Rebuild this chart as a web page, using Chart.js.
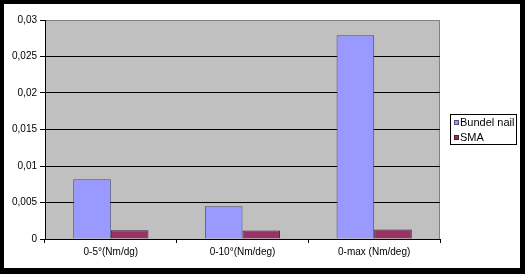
<!DOCTYPE html>
<html lang="en">
<head>
    <meta charset="utf-8">
    <title>Bundel nail vs SMA</title>
    <script src="https://cdn.jsdelivr.net/npm/chart.js"></script>
    <style>
        body { margin: 0; background: #fff; }
        #frame {
            position: absolute; left: 0; top: 0;
            width: 525px; height: 274px;
            box-sizing: border-box;
            border-style: solid; border-color: #000;
            border-width: 4px 5px 6px 4px;
            background: #fff;
        }
        canvas { display: block; }
    </style>
</head>
<body>
    <div id="frame">
        <canvas id="myChart" width="516" height="264"></canvas>
    </div>
    <script>
        const labels = ['0-5°(Nm/dg)', '0-10°(Nm/deg)', '0-max (Nm/deg)'];
        const bundelNail = [0.0082, 0.0045, 0.0279];
        const sma = [0.0012, 0.00115, 0.0013];
        const yTicks = [0, 0.005, 0.01, 0.015, 0.02, 0.025, 0.03];

        const font = { family: 'Liberation Sans, Arial, sans-serif', size: 10 };

        // grey plot area + legend box with a border, like the old excel look
        const excelLook = {
            id: 'excelLook',
            beforeDraw(chart) {
                const a = chart.chartArea, c = chart.ctx;
                c.save();
                c.fillStyle = '#c0c0c0';
                c.fillRect(a.left, a.top, a.right - a.left, a.bottom - a.top);
                c.strokeStyle = '#808080';
                c.lineWidth = 1;
                c.beginPath();
                c.moveTo(a.left, a.top + 0.5);
                c.lineTo(a.right - 0.5, a.top + 0.5);
                c.lineTo(a.right - 0.5, a.bottom);
                c.stroke();
                c.restore();
            },
            afterDraw(chart) {
                const a = chart.chartArea, c = chart.ctx;
                const left = a.right + 10, w = 67, h = 31;
                const top = Math.round((a.top + a.bottom) / 2 - h / 2);
                c.save();
                c.fillStyle = '#fff';
                c.fillRect(left, top, w, h);
                c.strokeStyle = '#000';
                c.lineWidth = 1;
                c.strokeRect(left + 0.5, top + 0.5, w - 1, h - 1);
                c.font = '11px Liberation Sans, Arial, sans-serif';
                c.textBaseline = 'middle';
                chart.data.datasets.forEach((ds, i) => {
                    const y = top + 9 + i * 15;
                    c.fillStyle = ds.backgroundColor;
                    c.fillRect(left + 4, y - 3, 5, 5);
                    c.strokeStyle = ds.borderColor;
                    c.strokeRect(left + 4.5, y - 2.5, 4, 4);
                    c.fillStyle = '#000';
                    c.fillText(ds.label, left + 10, y);
                });
                c.restore();
            }
        };

        var ctx = document.getElementById('myChart').getContext('2d');
        var myChart = new Chart(ctx, {
            type: 'bar',
            data: {
                labels: labels,
                datasets: [{
                    label: 'Bundel nail',
                    data: bundelNail,
                    backgroundColor: '#9999ff',
                    borderColor: '#4d4d80',
                    borderWidth: 1
                }, {
                    label: 'SMA',
                    data: sma,
                    backgroundColor: '#993366',
                    borderColor: '#4a1830',
                    borderWidth: 1
                }]
            },
            options: {
                responsive: false,
                animation: false,
                events: [],
                layout: { padding: { top: 16, right: 80, left: 0, bottom: 0 } },
                datasets: { bar: { categoryPercentage: 2 / 3.5, barPercentage: 1 } },
                plugins: {
                    legend: { display: false },
                    tooltip: { enabled: false }
                },
                scales: {
                    x: {
                        grid: { offset: true, drawOnChartArea: false, color: '#000', tickLength: 4 },
                        border: { color: '#000' },
                        ticks: { color: '#000', font: font, padding: 3, maxRotation: 0 },
                        afterFit(scale) { scale.height = 29; }
                    },
                    y: {
                        min: 0,
                        max: 0.03,
                        afterBuildTicks(scale) {
                            scale.ticks = yTicks.map(v => ({ value: v }));
                        },
                        grid: {
                            color: c => c.tick && c.tick.value === 0.03 ? '#808080' : '#000',
                            tickColor: '#000',
                            tickLength: 5
                        },
                        border: { color: '#000' },
                        ticks: {
                            color: '#000',
                            font: font,
                            padding: 3,
                            callback: v => String(Math.round(v * 1000) / 1000).replace('.', ',')
                        },
                        afterFit(scale) { scale.width = 41; }
                    }
                }
            },
            plugins: [excelLook]
        });
    </script>
</body>
</html>
